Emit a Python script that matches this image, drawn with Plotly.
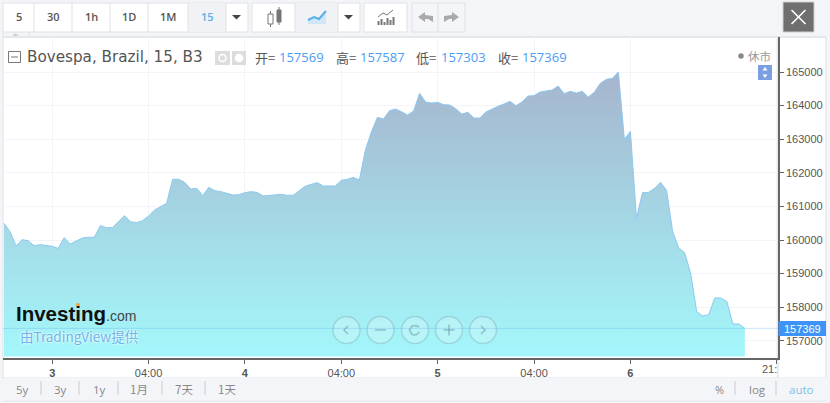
import plotly.graph_objects as go

W, H = 830, 403

# ---- data ----
close_values = [
    160496, 160248, 159822, 160010, 159980, 159832, 159861, 159841, 159812, 159752,
    160070, 159881, 159960, 160060, 160080, 160080, 160427, 160367, 160367, 160546,
    160724, 160546, 160516, 160576, 160714, 160893, 161002, 161091, 161806, 161806,
    161716, 161518, 161538, 161320, 161568, 161468, 161439, 161389, 161339, 161349,
    161409, 161439, 161419, 161310, 161330, 161359, 161359, 161330, 161330, 161468,
    161597, 161657, 161706, 161607, 161607, 161607, 161776, 161806, 161865, 161786,
    162679, 163224, 163651, 163601, 163849, 163899, 163819, 163720, 163839, 164365,
    164107, 164077, 164097, 164028, 164018, 163909, 163750, 163800, 163631, 163631,
    163810, 163899, 163978, 164048, 164127, 163998, 164107, 164286, 164296, 164405,
    164434, 164464, 164583, 164355, 164424, 164375, 164424, 164256, 164395, 164663,
    164782, 164811, 165000, 162996, 163234, 160645, 161409, 161419, 161538, 161716,
    161478, 160258, 159772, 159623, 159008, 157868, 157739, 157778, 158274, 158274,
    158175, 157500, 157500, 157369,
]
bar_index = list(range(len(close_values)))
x_tick_positions = [8, 24, 40, 56, 72, 88, 104, 128.3]
x_tick_labels = ["<b>3</b>", "04:00", "<b>4</b>", "04:00", "<b>5</b>", "04:00", "<b>6</b>", " "]
y_tick_values = [157000, 158000, 159000, 160000, 161000, 162000, 163000, 164000, 165000]
last_price = close_values[-1]
ohlc_labels = ["开=", "高=", "低=", "收="]
ohlc_values = ["157569", "157587", "157303", "157369"]
interval_labels = ["5", "30", "1h", "1D", "1M", "15"]
range_labels = ["5y", "3y", "1y", "1月", "7天", "1天"]
scale_labels = ["%", "log", "auto"]

# ---- helpers working in page pixels ----
def fx(x): return x / W
def fy(y): return 1 - y / H

shapes, notes = [], []

def rect(x0, y0, x1, y1, fill=None, line=None, lw=1, layer="below"):
    shapes.append(dict(type="rect", xref="paper", yref="paper", x0=fx(x0), x1=fx(x1), y0=fy(y1), y1=fy(y0),
                       fillcolor=fill or "rgba(0,0,0,0)", line=dict(color=line or "rgba(0,0,0,0)", width=lw if line else 0), layer=layer))

def poly(points, fill=None, line=None, lw=1, close=False, layer="above"):
    d = "M" + " L".join(f"{fx(a):.5f},{fy(b):.5f}" for a, b in points) + (" Z" if close else "")
    shapes.append(dict(type="path", xref="paper", yref="paper", path=d, fillcolor=fill or "rgba(0,0,0,0)",
                       line=dict(color=line or "rgba(0,0,0,0)", width=lw if line else 0), layer=layer))

def circle(cx, cy, r, fill, line):
    shapes.append(dict(type="circle", xref="paper", yref="paper", x0=fx(cx - r), x1=fx(cx + r), y0=fy(cy + r), y1=fy(cy - r),
                       fillcolor=fill, line=dict(color=line, width=1.5), layer="above"))

def text(x, y, s, size=12, color="#555", family="Open Sans", anchor="left", weight=None, shadow=None):
    f = dict(size=size, color=color, family=family)
    if weight: f["weight"] = weight
    if shadow: f["shadow"] = shadow
    notes.append(dict(xref="paper", yref="paper", x=fx(x), y=fy(y), text=s, showarrow=False, xanchor=anchor,
                      yanchor="middle", font=f, borderpad=0, borderwidth=0))

BORDER = "#dfe1e6"
CJK = "Noto Sans CJK SC"

# ---- chart panel ----
rect(3, 37, 778, 378, fill="#ffffff", line=BORDER)
rect(778, 37, 826, 378, fill="#ffffff", line=BORDER)
rect(3, 378, 826, 400, fill="#f4f5f8")
poly([(3, 401), (826, 401)], line="#e4e6ea", lw=1, layer="below")
poly([(3, 33), (3, 37), (826, 37)], line="#dfe1e6", lw=1, layer="below")
poly([(29, 32), (29, 37)], line="#dfe1e6", lw=1, layer="below")
poly([(12, 36), (15.5, 33), (19, 36)], fill="#d0d3d8", close=True, layer="below")

# ---- toolbar ----
edges = [3, 34, 72, 110, 148, 188, 226, 248]
rect(3, 3, 248, 32, fill="#ffffff", line=BORDER)
rect(188, 3, 226, 32, fill="#f0f2f5")
for e in edges[1:-1]:
    poly([(e, 3), (e, 32)], line=BORDER, layer="below")
for i, lab in enumerate(interval_labels):
    cx = (edges[i] + edges[i + 1]) / 2
    text(cx, 17, lab, size=11, color="#5ab0e6" if lab == "15" else "#555", anchor="center", weight=600)
poly([(232, 15), (241, 15), (236.5, 19.5)], fill="#444", close=True)

rect(252, 3, 360, 32, fill="#ffffff", line=BORDER)
rect(295, 3, 338, 32, fill="#f0f2f5")
poly([(295, 3), (295, 32)], line=BORDER, layer="below")
poly([(338, 3), (338, 32)], line=BORDER, layer="below")
poly([(344, 15), (353, 15), (348.5, 19.5)], fill="#444", close=True)
poly([(270.5, 11), (270.5, 27)], line="#777")
rect(268, 14, 273, 24, fill="#ffffff", line="#777", layer="above")
poly([(279, 7), (279, 25)], line="#777")
rect(277, 10, 281, 22, fill="#777", line="#777", layer="above")
poly([(308, 20), (314, 17), (319, 19), (326, 11), (326, 24), (308, 24)], fill="#cfe7f6", close=True)
poly([(308, 20), (314, 17), (319, 19), (326, 11)], line="#5ab0e6", lw=2)

rect(364, 3, 407, 32, fill="#ffffff", line=BORDER)
for bx, top in [(378.5, 21), (381.5, 19), (384.5, 22), (387.5, 18), (390.5, 20), (393.5, 17)]:
    poly([(bx, top), (bx, 25)], line="#777", lw=2)
poly([(378, 17), (383, 13), (387, 15), (393, 10)], line="#777", lw=1)

rect(412, 3, 465, 32, fill="#f4f5f8", line=BORDER)
poly([(438, 3), (438, 32)], line=BORDER, layer="below")
poly([(418, 17), (425, 12), (425, 15), (433, 16), (433, 22), (428, 19), (425, 19), (425, 22)], fill="#aaa", close=True)
poly([(459, 17), (452, 12), (452, 15), (444, 16), (444, 22), (449, 19), (452, 19), (452, 22)], fill="#aaa", close=True)

rect(783, 2, 814, 32, fill="#6f6f6f", line="#cfcfcf", layer="above")
poly([(791.5, 10), (805.5, 24)], line="#fff", lw=1.6)
poly([(805.5, 10), (791.5, 24)], line="#fff", lw=1.6)

# ---- legend row ----
rect(8.5, 51.5, 20.5, 62.5, line="#777", layer="above")
poly([(11, 57), (18, 57)], line="#777")
text(27, 57, "Bovespa, Brazil, 15, B3", size=15.2, color="#555", family="DejaVu Sans")
rect(215, 51, 230, 65, fill="#dddddd", layer="above")
rect(232, 51, 246, 65, fill="#dddddd", layer="above")
circle(222.5, 58, 3.5, "rgba(0,0,0,0)", "#fff")
circle(239, 58, 3.5, "#fff", "#fff")
for lab_x, val_x, lab, val in zip([255, 336, 416, 498], [279, 360, 441, 522], ohlc_labels, ohlc_values):
    text(lab_x, 57, lab, size=13, color="#555", family=CJK)
    text(val_x, 57, val, size=13, color="#4a9cf5")
circle(741, 56, 2, "#888", "#888")
text(748, 56, "休市", size=11.5, color="#999", family=CJK)
rect(758, 65, 772, 80, fill="#7b9fe0", layer="above")
poly([(765, 67), (762.5, 70.5), (767.5, 70.5)], fill="#fff", close=True)
poly([(765, 78), (762.5, 74.5), (767.5, 74.5)], fill="#fff", close=True)

# ---- logo ----
text(15.5, 313, "Investing", size=20.5, color="#111", family="Liberation Sans", weight=700)
text(106, 316, ".com", size=14, color="#444", family="Liberation Sans")
circle(78, 305, 1.2, "#f2a33a", "#f2a33a")
text(20, 336, "由TradingView提供", size=13.5, color="#6db4ea", family=CJK, shadow="0 0 2px #ffffff, 0 0 3px #ffffff")

# ---- navigation buttons ----
CIRC_FILL, CIRC_LINE, GLYPH = "rgba(255,255,255,0.22)", "rgba(120,160,170,0.35)", "rgba(100,130,140,0.45)"
for cx in [346.5, 380.5, 415, 449, 483]:
    circle(cx, 330, 13.5, CIRC_FILL, CIRC_LINE)
poly([(348, 326), (344, 330), (348, 334)], line=GLYPH, lw=1.6)
poly([(375, 330), (386, 330)], line=GLYPH, lw=1.6)
poly([(419, 327), (416, 325.5), (412, 326), (409.5, 330), (412, 334.5), (416, 335), (419.5, 332)], line=GLYPH, lw=1.6)
poly([(443.5, 330), (454.5, 330)], line=GLYPH, lw=1.6)
poly([(449, 324.5), (449, 335.5)], line=GLYPH, lw=1.6)
poly([(481, 326), (485, 330), (481, 334)], line=GLYPH, lw=1.6)

# ---- bottom bars ----
for x, lab in zip([22, 60, 99, 139, 184, 227], range_labels):
    text(x, 389, lab, size=11.5, color="#888", anchor="center", family=CJK if lab[-1] in "月天" else "Open Sans")
for x in [41, 79, 118, 162, 205, 735, 776]:
    poly([(x, 381), (x, 395)], line="#c9ccd1")
text(719, 389, scale_labels[0], size=11, color="#888", anchor="center", weight=500)
text(757, 389, scale_labels[1], size=11.5, color="#888", anchor="center", weight=500)
text(801, 389, scale_labels[2], size=11.5, color="#7fc0e6", anchor="center", weight=500)
text(777, 369, "21:", size=11, color="#555", family="Liberation Sans", anchor="right")

# ---- price marker ----
shapes.append(dict(type="line", xref="paper", yref="y", x0=fx(3), x1=fx(778), y0=last_price, y1=last_price,
                   line=dict(color="rgba(90,170,240,0.3)", width=1), layer="above"))
rect(778.5, 321, 826, 336, fill="#3d94f6", layer="above")
text(802.5, 328.5, str(last_price), size=11, color="#fff", family="Liberation Sans", anchor="center")

# thin pale gap between the fill and the time axis
rect(4, 356.5, 777, 358, fill="#ffffff", layer="above")

fig = go.Figure(go.Scatter(
    x=bar_index, y=close_values, mode="lines",
    line=dict(color="#8cc8f2", width=1),
    fill="tozeroy",
    fillgradient=dict(type="vertical", start=165000, stop=156540,
                      colorscale=[[0, "rgba(163,178,204,0.97)"], [1, "rgba(160,247,250,0.97)"]]),
    hoverinfo="skip",
))

fig.update_layout(
    width=W, height=H, margin=dict(l=0, r=0, t=0, b=0), autosize=False,
    paper_bgcolor="#f4f5f8", plot_bgcolor="#ffffff", showlegend=False,
    shapes=shapes, annotations=notes,
    xaxis=dict(domain=[fx(3), fx(778)], range=[-0.166, 128.5], tickmode="array",
               tickvals=x_tick_positions, ticktext=x_tick_labels,
               showgrid=True, gridcolor="#f3f4f7", gridwidth=1, zeroline=False,
               showline=True, linecolor="#666", linewidth=1.5, ticks="outside", ticklen=4, tickcolor="#666",
               tickfont=dict(family="Liberation Sans", size=11, color="#555")),
    yaxis=dict(domain=[fy(358), fy(37)], range=[156488, 166042], side="right", tickmode="array",
               tickvals=y_tick_values, ticktext=[str(v) for v in y_tick_values],
               showgrid=True, gridcolor="#f3f4f7", gridwidth=1, zeroline=False,
               showline=True, linecolor="#666", linewidth=1.5, ticks="outside", ticklen=4, tickcolor="#666",
               tickfont=dict(family="Liberation Sans", size=11, color="#555")),
)

fig.write_html("out.html", post_script="document.body.style.margin='0';document.body.style.overflow='hidden';",
               config=dict(displayModeBar=False))
